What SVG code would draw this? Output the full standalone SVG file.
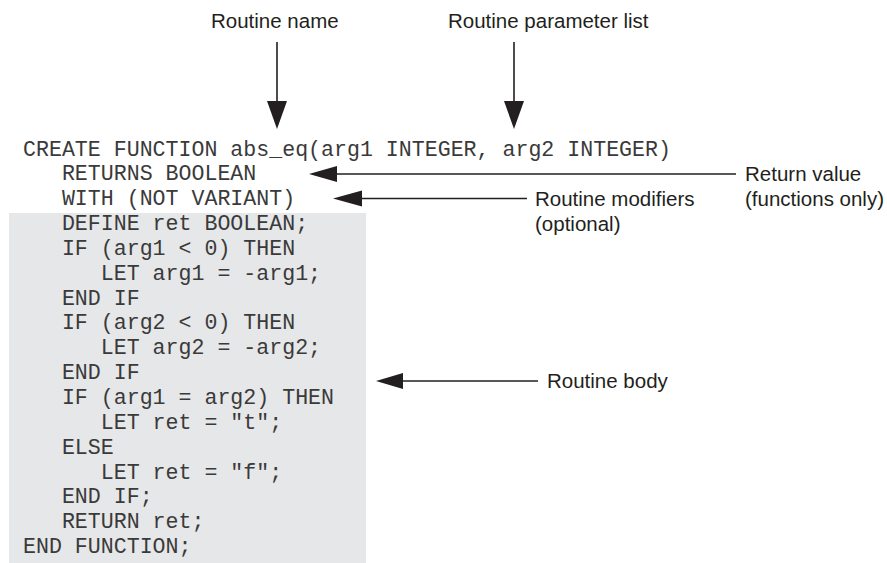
<svg xmlns="http://www.w3.org/2000/svg" width="887" height="563" viewBox="0 0 887 563">
<style>
.code{font-family:"Liberation Mono","Courier New",monospace;font-size:21.6px;fill:#3a3a3a;white-space:pre}
.lbl{font-family:"Liberation Sans",Arial,sans-serif;font-size:20.5px;fill:#231f20}
.ln{stroke:#231f20;stroke-width:1.6;fill:none}
.hd{fill:#231f20}
</style>
<rect width="887" height="563" fill="#ffffff"/>
<g id="body-box"><rect x="9" y="213" width="357" height="350" fill="#e6e7e8"/></g>
<g id="code">
<text class="code" x="23" y="155.5" xml:space="preserve">CREATE FUNCTION abs_eq(arg1 INTEGER, arg2 INTEGER)</text>
<text class="code" x="23" y="180.3" xml:space="preserve">   RETURNS BOOLEAN</text>
<text class="code" x="23" y="205.2" xml:space="preserve">   WITH (NOT VARIANT)</text>
<text class="code" x="23" y="230" xml:space="preserve">   DEFINE ret BOOLEAN;</text>
<text class="code" x="23" y="254.9" xml:space="preserve">   IF (arg1 &lt; 0) THEN</text>
<text class="code" x="23" y="279.7" xml:space="preserve">      LET arg1 = -arg1;</text>
<text class="code" x="23" y="304.6" xml:space="preserve">   END IF</text>
<text class="code" x="23" y="329.4" xml:space="preserve">   IF (arg2 &lt; 0) THEN</text>
<text class="code" x="23" y="354.3" xml:space="preserve">      LET arg2 = -arg2;</text>
<text class="code" x="23" y="379.1" xml:space="preserve">   END IF</text>
<text class="code" x="23" y="404" xml:space="preserve">   IF (arg1 = arg2) THEN</text>
<text class="code" x="23" y="428.8" xml:space="preserve">      LET ret = "t";</text>
<text class="code" x="23" y="453.7" xml:space="preserve">   ELSE</text>
<text class="code" x="23" y="478.5" xml:space="preserve">      LET ret = "f";</text>
<text class="code" x="23" y="503.4" xml:space="preserve">   END IF;</text>
<text class="code" x="23" y="528.2" xml:space="preserve">   RETURN ret;</text>
<text class="code" x="23" y="553" xml:space="preserve">END FUNCTION;</text>
</g>
<g id="label-routine-name"><text class="lbl" x="211" y="28">Routine name</text></g>
<g id="label-parameter-list"><text class="lbl" x="448" y="28">Routine parameter list</text></g>
<g id="label-return-value">
<text class="lbl" x="745" y="181">Return value</text>
<text class="lbl" x="745" y="206">(functions only)</text>
</g>
<g id="label-modifiers">
<text class="lbl" x="535" y="206">Routine modifiers</text>
<text class="lbl" x="535" y="231">(optional)</text>
</g>
<g id="label-body"><text class="lbl" x="547" y="388">Routine body</text></g>
<g id="connectors">
<line class="ln" x1="277" y1="42" x2="277" y2="102"/>
<polygon class="hd" points="267,101 287,101 277,129"/>
<line class="ln" x1="514" y1="42" x2="514" y2="102"/>
<polygon class="hd" points="504,101 524,101 514,129"/>
<line class="ln" x1="334" y1="174" x2="736" y2="174"/>
<polygon class="hd" points="337,166 337,182 309,174"/>
<line class="ln" x1="360" y1="198.5" x2="527" y2="198.5"/>
<polygon class="hd" points="362,190.5 362,206.5 333,198.5"/>
<line class="ln" x1="400" y1="381" x2="538" y2="381"/>
<polygon class="hd" points="403,373 403,389 376,381"/>
</g>
</svg>
